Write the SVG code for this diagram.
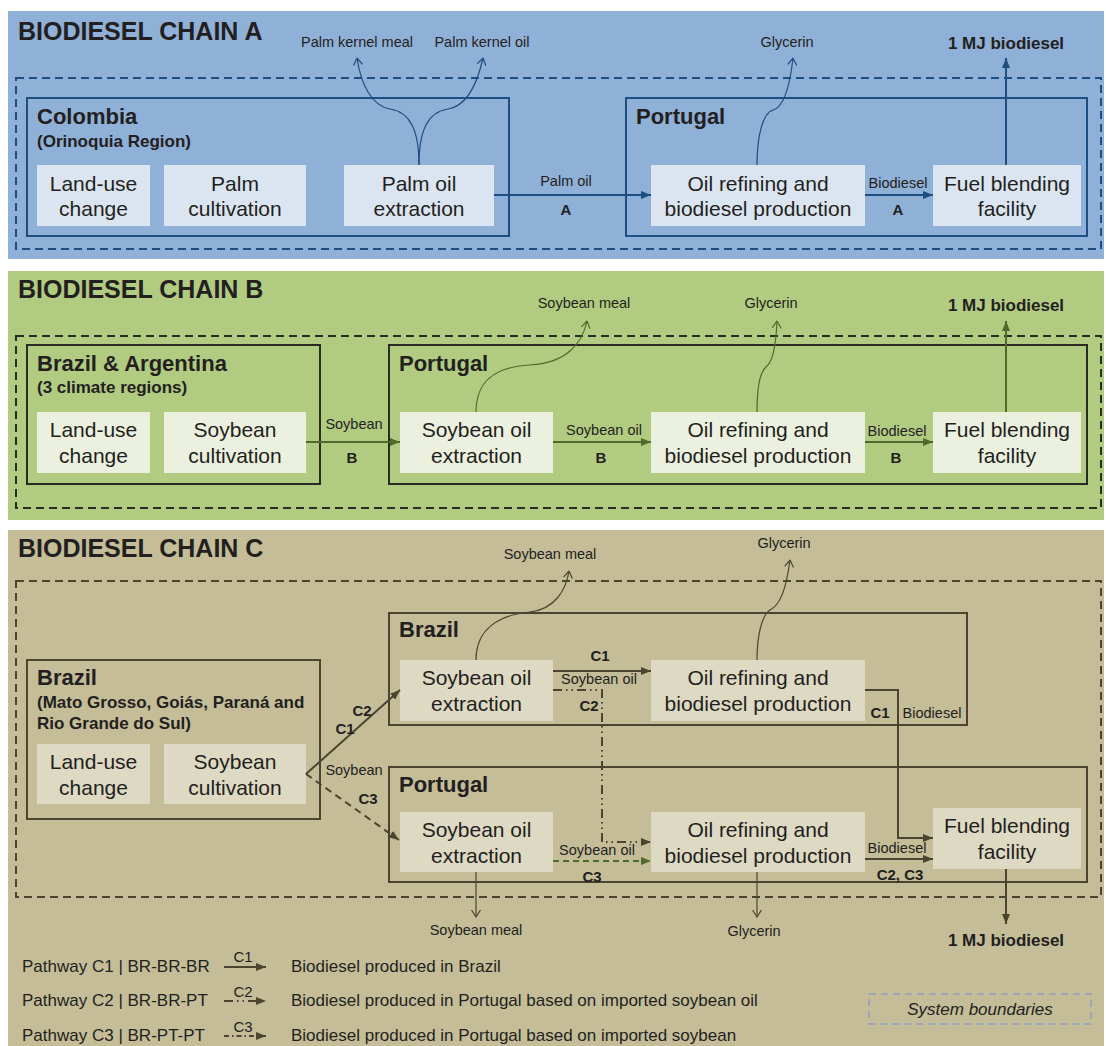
<svg xmlns="http://www.w3.org/2000/svg" width="1106" height="1046" viewBox="0 0 1106 1046">
<defs>
<style>
text{font-family:"Liberation Sans",Arial,Helvetica,sans-serif;fill:#231f20}
.title{font-size:25px;font-weight:bold}
.region{font-size:22px;font-weight:bold}
.sub{font-size:17px;font-weight:bold}
.box{font-size:21px;text-anchor:middle}
.lbl{font-size:14.5px;text-anchor:middle}
.lblb{font-size:15px;font-weight:bold;text-anchor:middle}
.fu{font-size:17px;font-weight:bold;text-anchor:middle}
.leg{font-size:17px}
.legs{font-size:15px;text-anchor:middle}
.bA{fill:#dbe5f1}
.bB{fill:#ebf1de}
.bC{fill:#ddd9c3}
.rA{fill:none;stroke:#1f4e80;stroke-width:2}
.rB{fill:none;stroke:#2b2b26;stroke-width:2}
.rC{fill:none;stroke:#4b4530;stroke-width:2}
.dA{fill:none;stroke:#1f4e80;stroke-width:2;stroke-dasharray:8 5}
.dB{fill:none;stroke:#2b2b26;stroke-width:2;stroke-dasharray:8 5}
.dC{fill:none;stroke:#4b4530;stroke-width:2;stroke-dasharray:8 5}
.aA{fill:none;stroke:#1f4e80;stroke-width:2}
.aB{fill:none;stroke:#4e6b2b;stroke-width:2}
.aC{fill:none;stroke:#4b4530;stroke-width:2}
.cA{fill:none;stroke:#1f4e80;stroke-width:1.2}
.cB{fill:none;stroke:#4e6b2b;stroke-width:1.2}
.cC{fill:none;stroke:#4b4530;stroke-width:1.2}
.dd{stroke-dasharray:9 4 1.5 4 1.5 4}
.gd{fill:none;stroke:#4e6b2b;stroke-width:2;stroke-dasharray:6 4}
.bd{stroke-dasharray:7 5}
</style>
<marker id="fA" viewBox="0 0 10 8" refX="10" refY="4" markerWidth="10" markerHeight="8" orient="auto" markerUnits="userSpaceOnUse"><path d="M0,0 L10,4 L0,8 z" fill="#1f4e80"/></marker>
<marker id="fB" viewBox="0 0 10 8" refX="10" refY="4" markerWidth="10" markerHeight="8" orient="auto" markerUnits="userSpaceOnUse"><path d="M0,0 L10,4 L0,8 z" fill="#4e6b2b"/></marker>
<marker id="fC" viewBox="0 0 10 8" refX="10" refY="4" markerWidth="10" markerHeight="8" orient="auto" markerUnits="userSpaceOnUse"><path d="M0,0 L10,4 L0,8 z" fill="#4b4530"/></marker>
<marker id="oA" viewBox="0 0 8 10" refX="7.5" refY="5" markerWidth="8" markerHeight="10" orient="auto" markerUnits="userSpaceOnUse"><path d="M0.5,0.5 L7.5,5 L0.5,9.5" fill="none" stroke="#1f4e80" stroke-width="1.2"/></marker>
<marker id="oB" viewBox="0 0 8 10" refX="7.5" refY="5" markerWidth="8" markerHeight="10" orient="auto" markerUnits="userSpaceOnUse"><path d="M0.5,0.5 L7.5,5 L0.5,9.5" fill="none" stroke="#4e6b2b" stroke-width="1.2"/></marker>
<marker id="oC" viewBox="0 0 8 10" refX="7.5" refY="5" markerWidth="8" markerHeight="10" orient="auto" markerUnits="userSpaceOnUse"><path d="M0.5,0.5 L7.5,5 L0.5,9.5" fill="none" stroke="#4b4530" stroke-width="1.2"/></marker>
</defs>

<!-- panels -->
<g id="panels">
<rect x="8" y="11" width="1096" height="248" fill="#8fb0d7"/>
<rect x="8" y="271" width="1096" height="249" fill="#b1cb81"/>
<rect x="8" y="530" width="1096" height="516" fill="#c4bd97"/>
<text class="title" x="18" y="40">BIODIESEL CHAIN A</text>
<text class="title" x="18" y="298">BIODIESEL CHAIN B</text>
<text class="title" x="18" y="557">BIODIESEL CHAIN C</text>
<rect class="dA" x="16" y="78" width="1085" height="171"/>
<rect class="dB" x="16" y="336" width="1085" height="172"/>
<rect class="dC" x="16" y="581" width="1085" height="316"/>
</g>

<!-- Chain A -->
<g id="A-colombia"><rect class="rA" x="27" y="98" width="482" height="138"/><text class="region" x="37" y="124">Colombia</text><text class="sub" x="37" y="147">(Orinoquia Region)</text></g>
<g id="A-portugal"><rect class="rA" x="626" y="98" width="461" height="138"/><text class="region" x="636" y="124">Portugal</text></g>
<g id="A-luc"><rect class="bA" x="37" y="165" width="113" height="61"/><text class="box" x="93.5" y="191">Land-use<tspan x="93.5" y="216">change</tspan></text></g>
<g id="A-cult"><rect class="bA" x="164" y="165" width="142" height="61"/><text class="box" x="235" y="191">Palm<tspan x="235" y="216">cultivation</tspan></text></g>
<g id="A-ext"><rect class="bA" x="344" y="165" width="150" height="61"/><text class="box" x="419" y="191">Palm oil<tspan x="419" y="216">extraction</tspan></text></g>
<g id="A-ref"><rect class="bA" x="651" y="165" width="214" height="61"/><text class="box" x="758" y="191">Oil refining and<tspan x="758" y="216">biodiesel production</tspan></text></g>
<g id="A-fuel"><rect class="bA" x="933" y="165" width="148" height="61"/><text class="box" x="1007" y="191">Fuel blending<tspan x="1007" y="216">facility</tspan></text></g>
<g id="A-out">
<text class="lbl" x="357" y="47">Palm kernel meal</text>
<text class="lbl" x="482" y="47">Palm kernel oil</text>
<text class="lbl" x="787" y="47">Glycerin</text>
<text class="fu" x="1006" y="49">1 MJ biodiesel</text>
</g>

<!-- Chain B -->
<g id="B-brar"><rect class="rB" x="27" y="345" width="293" height="139"/><text class="region" x="37" y="371">Brazil &amp; Argentina</text><text class="sub" x="37" y="393">(3 climate regions)</text></g>
<g id="B-portugal"><rect class="rB" x="389" y="345" width="698" height="139"/><text class="region" x="399" y="371">Portugal</text></g>
<g id="B-luc"><rect class="bB" x="37" y="412" width="113" height="61"/><text class="box" x="93.5" y="437">Land-use<tspan x="93.5" y="463">change</tspan></text></g>
<g id="B-cult"><rect class="bB" x="164" y="412" width="142" height="61"/><text class="box" x="235" y="437">Soybean<tspan x="235" y="463">cultivation</tspan></text></g>
<g id="B-ext"><rect class="bB" x="400" y="412" width="153" height="61"/><text class="box" x="476.5" y="437">Soybean oil<tspan x="476.5" y="463">extraction</tspan></text></g>
<g id="B-ref"><rect class="bB" x="651" y="412" width="214" height="61"/><text class="box" x="758" y="437">Oil refining and<tspan x="758" y="463">biodiesel production</tspan></text></g>
<g id="B-fuel"><rect class="bB" x="933" y="412" width="148" height="61"/><text class="box" x="1007" y="437">Fuel blending<tspan x="1007" y="463">facility</tspan></text></g>
<g id="B-out">
<text class="lbl" x="584" y="308">Soybean meal</text>
<text class="lbl" x="771" y="308">Glycerin</text>
<text class="fu" x="1006" y="311">1 MJ biodiesel</text>
</g>

<!-- Chain C -->
<g id="C-brazil-farm"><rect class="rC" x="27" y="660" width="293" height="159"/><text class="region" x="37" y="685">Brazil</text><text class="sub" x="37" y="708">(Mato Grosso, Goiás, Paraná and</text><text class="sub" x="37" y="729">Rio Grande do Sul)</text></g>
<g id="C-brazil"><rect class="rC" x="389" y="613" width="578" height="112"/><text class="region" x="399" y="637">Brazil</text></g>
<g id="C-portugal"><rect class="rC" x="389" y="767" width="698" height="115"/><text class="region" x="399" y="792">Portugal</text></g>
<g id="C-luc"><rect class="bC" x="37" y="744" width="113" height="60"/><text class="box" x="93.5" y="769">Land-use<tspan x="93.5" y="795">change</tspan></text></g>
<g id="C-cult"><rect class="bC" x="164" y="744" width="142" height="60"/><text class="box" x="235" y="769">Soybean<tspan x="235" y="795">cultivation</tspan></text></g>
<g id="C-br-ext"><rect class="bC" x="400" y="660" width="153" height="61"/><text class="box" x="476.5" y="685">Soybean oil<tspan x="476.5" y="711">extraction</tspan></text></g>
<g id="C-br-ref"><rect class="bC" x="651" y="660" width="214" height="61"/><text class="box" x="758" y="685">Oil refining and<tspan x="758" y="711">biodiesel production</tspan></text></g>
<g id="C-pt-ext"><rect class="bC" x="400" y="812" width="153" height="60"/><text class="box" x="476.5" y="837">Soybean oil<tspan x="476.5" y="863">extraction</tspan></text></g>
<g id="C-pt-ref"><rect class="bC" x="651" y="812" width="214" height="60"/><text class="box" x="758" y="837">Oil refining and<tspan x="758" y="863">biodiesel production</tspan></text></g>
<g id="C-pt-fuel"><rect class="bC" x="933" y="808" width="148" height="61"/><text class="box" x="1007" y="833">Fuel blending<tspan x="1007" y="859">facility</tspan></text></g>
<g id="C-out">
<text class="lbl" x="550" y="559">Soybean meal</text>
<text class="lbl" x="784" y="548">Glycerin</text>
<text class="lbl" x="476" y="935">Soybean meal</text>
<text class="lbl" x="754" y="936">Glycerin</text>
<text class="fu" x="1006" y="946">1 MJ biodiesel</text>
</g>

<!-- connectors -->
<g id="connectors">
<!-- A -->
<path class="aA" d="M494,195 L651,195" marker-end="url(#fA)"/>
<text class="lbl" x="566" y="186">Palm oil</text>
<text class="lblb" x="566" y="215">A</text>
<path class="aA" d="M865,195 L933,195" marker-end="url(#fA)"/>
<text class="lbl" x="898" y="188">Biodiesel</text>
<text class="lblb" x="898" y="215">A</text>
<path class="cA" d="M419,165 C419,130 410,112 390,109 C372,106 361,85 357,58" marker-end="url(#oA)"/>
<path class="cA" d="M419,165 C419,130 428,112 448,109 C466,106 477,85 483,58" marker-end="url(#oA)"/>
<path class="cA" d="M757,165 C757,135 763,113 773,110 C784,107 790,85 793,58" marker-end="url(#oA)"/>
<path class="aA" d="M1006,165 L1006,58" marker-end="url(#fA)"/>
<!-- B -->
<path class="aB" d="M306,442 L400,442" marker-end="url(#fB)"/>
<text class="lbl" x="354" y="429">Soybean</text>
<text class="lblb" x="352" y="463">B</text>
<path class="aB" d="M553,442 L651,442" marker-end="url(#fB)"/>
<text class="lbl" x="604" y="435">Soybean oil</text>
<text class="lblb" x="601" y="463">B</text>
<path class="aB" d="M865,442 L933,442" marker-end="url(#fB)"/>
<text class="lbl" x="897" y="436">Biodiesel</text>
<text class="lblb" x="896" y="463">B</text>
<path class="cB" d="M476,412 C476,385 490,367 530,365 C565,363 582,345 587,321" marker-end="url(#oB)"/>
<path class="cB" d="M757,412 C757,390 760,372 766,367 C773,362 776,345 777,321" marker-end="url(#oB)"/>
<path class="aB" d="M1006,412 L1006,321" marker-end="url(#fB)"/>
<!-- C -->
<path class="aC" d="M306,774 L400,690" marker-end="url(#fC)"/>
<path class="aC bd" d="M306,774 L399,840" marker-end="url(#fC)"/>
<text class="lblb" x="362" y="716">C2</text>
<text class="lblb" x="345" y="734">C1</text>
<text class="lbl" x="354" y="775">Soybean</text>
<text class="lblb" x="368" y="804">C3</text>
<path class="aC" d="M553,671 L651,671" marker-end="url(#fC)"/>
<text class="lblb" x="600" y="661">C1</text>
<text class="lbl" x="599" y="684">Soybean oil</text>
<path class="aC dd" d="M553,690 L602,690 L602,842 L651,842" marker-end="url(#fC)"/>
<text class="lblb" x="589" y="711">C2</text>
<path class="gd" d="M553,861 L651,861" marker-end="url(#fB)"/>
<text class="lbl" x="597" y="855">Soybean oil</text>
<text class="lblb" x="592" y="882">C3</text>
<path class="aC" d="M865,690 L898,690 L898,838 L933,838" marker-end="url(#fC)"/>
<text class="lblb" x="880" y="718">C1</text>
<text class="lbl" x="932" y="718">Biodiesel</text>
<path class="aC" d="M865,859 L933,859" marker-end="url(#fC)"/>
<text class="lbl" x="897" y="853">Biodiesel</text>
<text class="lblb" x="900" y="880">C2, C3</text>
<path class="cC" d="M476,660 C476,628 500,615 530,612 C555,609 566,590 569,571" marker-end="url(#oC)"/>
<path class="cC" d="M757,660 C757,635 762,615 770,610 C780,605 786,590 790,560" marker-end="url(#oC)"/>
<path class="cC" d="M476,872 L476,917" marker-end="url(#oC)"/>
<path class="cC" d="M757,872 L757,917" marker-end="url(#oC)"/>
<path class="aC" d="M1006,869 L1006,924" marker-end="url(#fC)"/>
</g>

<!-- legend -->
<g id="legend">
<text class="leg" x="22" y="972">Pathway C1 | BR-BR-BR</text>
<path class="aC" d="M224,967 L266,967" stroke-width="1.5" marker-end="url(#fC)"/>
<text class="legs" x="243" y="962">C1</text>
<text class="leg" x="291" y="972">Biodiesel produced in Brazil</text>
<text class="leg" x="22" y="1006">Pathway C2 | BR-BR-PT</text>
<path class="aC dd" d="M224,1001 L266,1001" stroke-width="1.5" marker-end="url(#fC)"/>
<text class="legs" x="243" y="997">C2</text>
<text class="leg" x="291" y="1006">Biodiesel produced in Portugal based on imported soybean oil</text>
<text class="leg" x="22" y="1041">Pathway C3 | BR-PT-PT</text>
<path class="aC" d="M224,1036 L266,1036" stroke-width="1.5" stroke-dasharray="5 3 1.5 3" marker-end="url(#fC)"/>
<text class="legs" x="243" y="1032">C3</text>
<text class="leg" x="291" y="1041">Biodiesel produced in Portugal based on imported soybean</text>
<rect x="869" y="994" width="222" height="30" fill="none" stroke="#9ea6b6" stroke-width="2" stroke-dasharray="7 5"/>
<text class="leg" x="980" y="1015" text-anchor="middle" font-style="italic">System boundaries</text>
</g>
</svg>
